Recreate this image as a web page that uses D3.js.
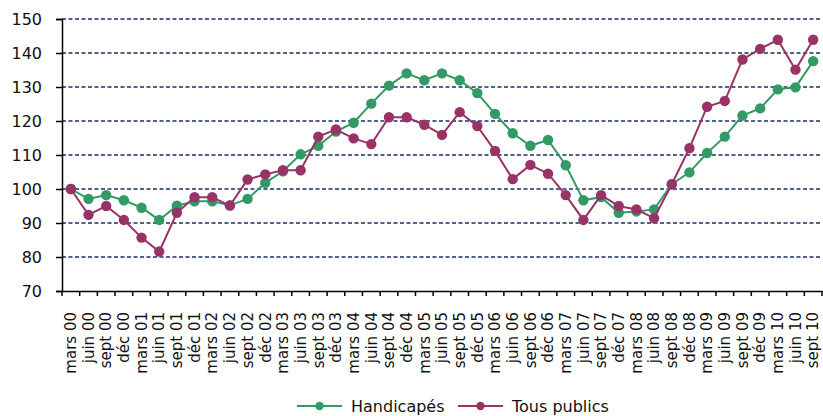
<!DOCTYPE html>
<html>
<head>
<meta charset="utf-8">
<script src="https://cdn.jsdelivr.net/npm/d3@7"></script>
<style>
  body { margin: 0; background: #fff; }
  svg text { font-family: "DejaVu Sans", sans-serif; fill: #111; }
</style>
</head>
<body>
<svg id="chart" width="823" height="416"></svg>
<script>
var quarters = ['mars', 'juin', 'sept', 'déc'];
var years = ['00', '01', '02', '03', '04', '05', '06', '07', '08', '09', '10'];
var labels = [];
years.forEach(function(y) {
  quarters.forEach(function(q) { labels.push(q + ' ' + y); });
});
labels = labels.slice(0, 43); // ends at sept 10

var handicapes = [100, 97.1, 98.2, 96.7, 94.5, 90.9, 95.1, 96.4, 96.4, 95.2, 97.1, 101.8,
  105.2, 110.2, 112.7, 116.9, 119.5, 125.1, 130.4, 134.0, 132.0, 134.0, 132.0, 128.2,
  122.1, 116.4, 112.7, 114.4, 107.0, 96.7, 97.6, 93.0, 93.4, 94.0, 101.4, 104.9,
  110.6, 115.4, 121.6, 123.7, 129.3, 129.9, 137.6];
var tousPublics = [100, 92.4, 95.0, 90.9, 85.7, 81.6, 93.0, 97.6, 97.6, 95.1, 102.8, 104.3,
  105.5, 105.5, 115.4, 117.5, 114.9, 113.2, 121.1, 121.1, 118.9, 115.9, 122.6, 118.5,
  111.2, 102.9, 107.1, 104.5, 98.2, 90.9, 98.2, 95.0, 94.0, 91.4, 101.4, 112.0,
  124.2, 125.9, 138.1, 141.2, 143.9, 135.1, 143.9];
var yTicks = [70, 80, 90, 100, 110, 120, 130, 140, 150];

var series = [
  {name: 'Handicapés', values: handicapes, color: '#339966'},
  {name: 'Tous publics', values: tousPublics, color: '#993366'}
];

var svg = d3.select('#chart');
var plotL = 62, plotR = 822, plotT = 19, plotB = 291;

var x = d3.scaleBand().domain(labels).range([plotL, plotR]);
var y = d3.scaleLinear().domain([70, 150]).range([plotB, plotT]);

// gridlines
svg.append('g').selectAll('line')
  .data(yTicks.slice(1))
  .enter().append('line')
  .attr('x1', plotL).attr('x2', plotR)
  .attr('y1', function(d) { return y(d); })
  .attr('y2', function(d) { return y(d); })
  .attr('stroke', '#172f68')
  .attr('stroke-width', 1.5)
  .attr('stroke-dasharray', '4,2.5');

// y axis
var yAxis = svg.append('g')
  .attr('transform', 'translate(' + plotL + ',0)')
  .call(d3.axisLeft(y).tickValues(yTicks).tickSize(6).tickPadding(14));
yAxis.select('.domain').attr('stroke', '#000').attr('stroke-width', 1.5);
yAxis.selectAll('.tick line').attr('stroke', '#000').attr('stroke-width', 1.5);
yAxis.selectAll('text').style('font-size', '16px').attr('fill', '#111');

// x axis
var xAxis = svg.append('g')
  .attr('transform', 'translate(0,' + plotB + ')')
  .call(d3.axisBottom(x).tickSize(0).tickSizeOuter(0));
xAxis.select('.domain').attr('stroke', '#000').attr('stroke-width', 1.5);
xAxis.selectAll('text')
  .style('font-size', '15px')
  .attr('fill', '#111')
  .attr('text-anchor', 'end')
  .attr('transform', 'rotate(-90)')
  .attr('x', -21)
  .attr('y', 0)
  .attr('dy', '0.35em');

// tick marks at band boundaries
svg.append('g').selectAll('line')
  .data(labels.concat(['end']))
  .enter().append('line')
  .attr('x1', function(d, i) { return plotL + i * x.step(); })
  .attr('x2', function(d, i) { return plotL + i * x.step(); })
  .attr('y1', plotB).attr('y2', plotB + 5)
  .attr('stroke', '#000').attr('stroke-width', 1.5);

var line = d3.line()
  .x(function(d, i) { return x(labels[i]) + x.bandwidth() / 2; })
  .y(function(d) { return y(d); });

series.forEach(function(s) {
  var g = svg.append('g');
  g.append('path')
    .datum(s.values)
    .attr('d', line)
    .attr('fill', 'none')
    .attr('stroke', s.color)
    .attr('stroke-width', 2);
  g.selectAll('circle')
    .data(s.values)
    .enter().append('circle')
    .attr('cx', function(d, i) { return x(labels[i]) + x.bandwidth() / 2; })
    .attr('cy', function(d) { return y(d); })
    .attr('r', 5.2)
    .attr('fill', s.color);
});

// legend
var legendPos = [297, 458];
var legend = svg.append('g').selectAll('g')
  .data(series)
  .enter().append('g')
  .attr('transform', function(d, i) { return 'translate(' + legendPos[i] + ',406)'; });
legend.append('line')
  .attr('x1', 0).attr('x2', 45)
  .attr('stroke', function(d) { return d.color; })
  .attr('stroke-width', 2);
legend.append('circle')
  .attr('cx', 22.5).attr('r', 4.2)
  .attr('fill', function(d) { return d.color; });
legend.append('text')
  .attr('x', 54).attr('dy', '0.35em')
  .style('font-size', '16px')
  .text(function(d) { return d.name; });
</script>
</body>
</html>
